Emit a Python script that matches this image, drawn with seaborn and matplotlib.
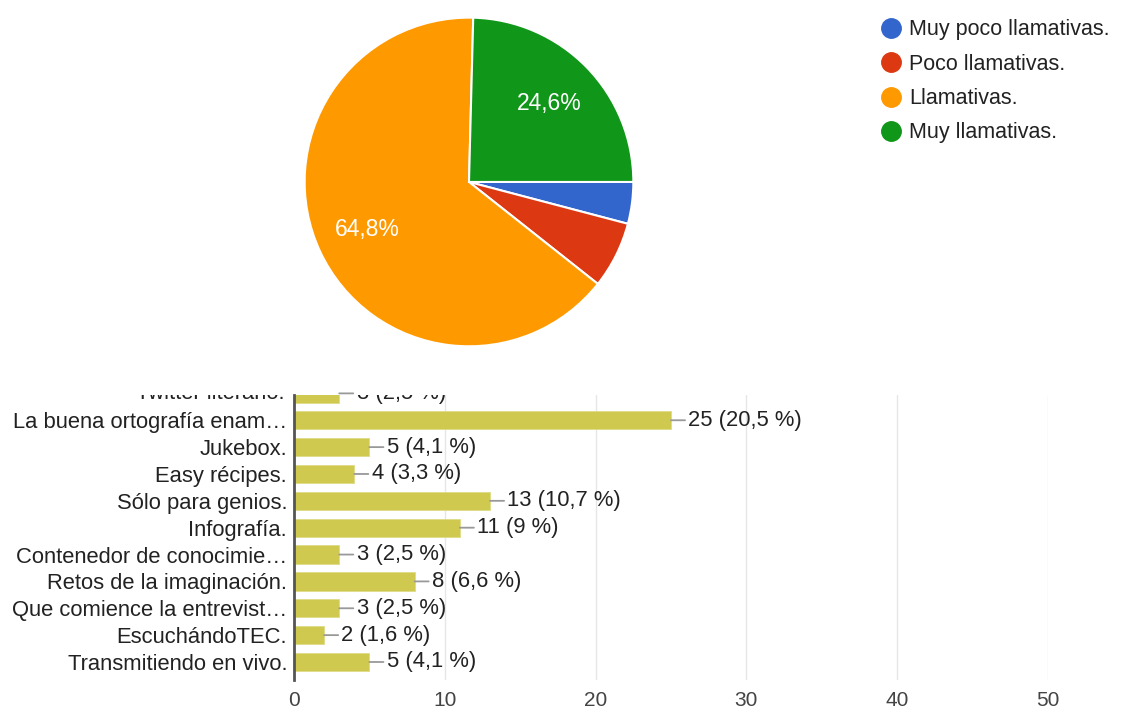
import matplotlib
matplotlib.use("Agg")
import matplotlib.pyplot as plt
import seaborn as sns
from matplotlib.lines import Line2D
from matplotlib.transforms import Bbox, TransformedBbox

# ---- data ----
pie_labels = ["Muy poco llamativas.", "Poco llamativas.", "Llamativas.", "Muy llamativas."]
pie_counts = [5, 8, 79, 30]
pie_colors = ["#3366cc", "#dc3912", "#ff9900", "#109618"]

bar_labels = ["Twitter literario.", "La buena ortografía enam…", "Jukebox.", "Easy récipes.",
              "Sólo para genios.", "Infografía.", "Contenedor de conocimie…",
              "Retos de la imaginación.", "Que comience la entrevist…", "EscuchándoTEC.",
              "Transmitiendo en vivo."]
bar_values = [3, 25, 5, 4, 13, 11, 3, 8, 3, 2, 5]
bar_pcts = ["2,5", "20,5", "4,1", "3,3", "10,7", "9", "2,5", "6,6", "2,5", "1,6", "4,1"]
x_ticks = [0, 10, 20, 30, 40, 50]

sns.set_theme(style="white")
plt.rcParams["font.family"] = ["Liberation Sans", "DejaVu Sans"]

FS = 15.8
fig = plt.figure(figsize=(11.22, 7.13), dpi=100)

# ---- pie ----
axp = fig.add_axes([0.27, 0.512, 0.296, 0.4656])
def fmt(p):
    return (f"{p:.1f}%".replace(".", ",")) if p > 10 else ""
wedges, texts, autotexts = axp.pie(pie_counts, colors=pie_colors, startangle=0, counterclock=False,
                                   autopct=fmt, pctdistance=0.68,
                                   wedgeprops=dict(edgecolor="white", linewidth=1.5),
                                   textprops=dict(color="white", fontsize=16.5))
axp.set_aspect("equal")
axp.set_xlim(-1.01, 1.01)
axp.set_ylim(-1.01, 1.01)

handles = [Line2D([], [], marker="o", linestyle="none", markersize=14,
                  markerfacecolor=c, markeredgecolor=c) for c in pie_colors]
leg = fig.legend(handles, pie_labels, loc="upper left", bbox_to_anchor=(0.767, 1.0),
                 frameon=False, fontsize=15.5, handlelength=1.0,
                 labelspacing=0.62, handletextpad=0.35, labelcolor="#222222")

# ---- bars ----
axb = fig.add_axes([0.262, 0.0463, 0.672, 0.3997])
sns.barplot(x=bar_values, y=bar_labels, orient="h", color="#cfca4f", saturation=1,
            width=0.68, ax=axb, edgecolor="#dedb86", linewidth=0.6)
axb.set_xlim(0, 50)
axb.set_ylim(10.67, 0.06)
axb.set_xticks(x_ticks)
axb.set_xticklabels([str(t) for t in x_ticks])
axb.grid(axis="x", color="#e6e6e6", linewidth=1)
axb.set_axisbelow(True)
for s in ["top", "right", "bottom"]:
    axb.spines[s].set_visible(False)
axb.spines["left"].set_color("#555555")
axb.spines["left"].set_linewidth(2)
axb.tick_params(axis="both", length=0, labelsize=FS, colors="#222222")
axb.tick_params(axis="x", pad=8, colors="#444444", labelsize=15)
axb.tick_params(axis="y", pad=5)
axb.set_xlabel("")
axb.set_ylabel("")

clip = TransformedBbox(Bbox([[0, 0], [1, 0.446]]), fig.transFigure)
for i, (v, p) in enumerate(zip(bar_values, bar_pcts)):
    a = axb.annotate(f"{v} ({p} %)", xy=(v, i), xytext=(12.5, 0), textcoords="offset points",
                     ha="left", va="center", fontsize=FS, color="#222222",
                     annotation_clip=False,
                     arrowprops=dict(arrowstyle="-", color="#999999", lw=1.3,
                                     shrinkA=0, shrinkB=0))
    a.set_clip_on(True)
    a.set_clip_box(clip)

# first category label sits partly outside the view (cut off, as in the reference)
t0 = axb.annotate(bar_labels[0], xy=(0, 0), xytext=(-6.5, 0), textcoords="offset points",
                  ha="right", va="center", fontsize=FS, color="#222222", annotation_clip=False)
t0.set_clip_on(True)
t0.set_clip_box(clip)
for t in axb.get_yticklabels():
    t.set_clip_on(True)
    t.set_clip_box(clip)

fig.savefig("out.png", dpi=100)
